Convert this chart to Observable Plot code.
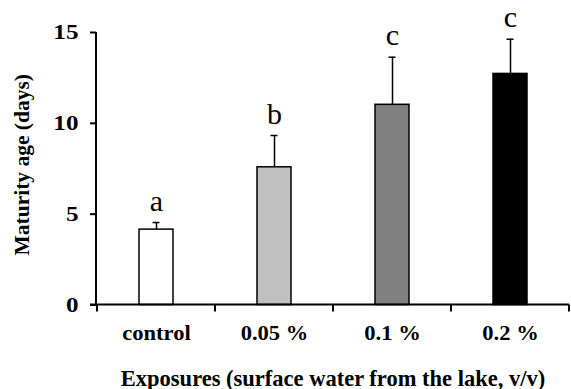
<!DOCTYPE html>
<html>
<head>
<meta charset="utf-8">
<script src="https://cdn.jsdelivr.net/npm/d3@7"></script>
<script src="https://cdn.jsdelivr.net/npm/@observablehq/plot@0.6"></script>
<style>
  html, body { margin: 0; padding: 0; background: #fff; }
</style>
</head>
<body>
<script>
const categories = ["control", "0.05 %", "0.1 %", "0.2 %"];
const means = [4.15, 7.58, 11.02, 12.72];
const errors = [0.39, 1.75, 2.62, 1.91];
const letters = ["a", "b", "c", "c"];
const fills = ["#ffffff", "#c0c0c0", "#808080", "#000000"];
const yTicks = [0, 5, 10, 15];
const yLabel = "Maturity age (days)";
const xLabel = "Exposures (surface water from the lake, v/v)";

const data = categories.map((cat, i) => ({cat, mean: means[i], err: errors[i], letter: letters[i]}));

const serif = "'Liberation Serif', 'Times New Roman', Times, serif";

function axesMark(index, scales, values, dimensions) {
  const x = scales.x, y = scales.y;
  const step = typeof x.step === "function" ? x.step() : scales.scales.x.step;
  const bw = typeof x.bandwidth === "function" ? x.bandwidth() : scales.scales.x.bandwidth;
  const {width, marginLeft, marginRight} = dimensions;
  const y0 = y(0), yTop = y(yTicks[yTicks.length - 1]);
  const g = d3.create("svg:g").attr("stroke", "black").attr("stroke-width", 2).attr("fill", "none");
  g.append("line").attr("x1", marginLeft).attr("x2", marginLeft).attr("y1", y0 + 1).attr("y2", yTop);
  g.append("line").attr("x1", marginLeft - 6).attr("x2", width - marginRight).attr("y1", y0).attr("y2", y0);
  const bounds = [x(categories[0]) + bw / 2 - step / 2, ...categories.map(c => x(c) + bw / 2 + step / 2)];
  for (const bx of bounds) {
    g.append("line").attr("x1", bx).attr("x2", bx).attr("y1", y0).attr("y2", y0 + 7);
  }
  return g.node();
}

const plot = Plot.plot({
  width: 571,
  height: 389,
  marginLeft: 96,
  marginRight: 2,
  marginTop: 32,
  marginBottom: 84.5,
  style: {fontFamily: serif, fontSize: "20.5px", fontWeight: "bold", background: "#fff", color: "#000"},
  x: {domain: categories, paddingInner: 0.713, paddingOuter: 0.3565, label: null},
  y: {domain: [0, 15], label: null},
  color: {domain: categories, range: fills},
  marks: [
    Plot.barY(data, {x: "cat", y: "mean", fill: "cat", stroke: "black", strokeWidth: 1.5}),
    Plot.ruleX(data, {x: "cat", y1: "mean", y2: d => d.mean + d.err, stroke: "black", strokeWidth: 1.5}),
    Plot.tickY(data, {x: "cat", y: d => d.mean + d.err, stroke: "black", strokeWidth: 1.5, insetLeft: 13.5, insetRight: 13.5}),
    Plot.text(data, {x: "cat", y: d => d.mean + d.err, text: "letter", lineAnchor: "bottom", dy: -12, fontSize: 30, fontWeight: "normal", fill: "black"}),
    Plot.axisY({ticks: yTicks, tickSize: 6, tickPadding: 12, strokeWidth: 2, fontSize: 21, tickFormat: d => String(d), label: null}),
    Plot.axisX({tickSize: 0, tickPadding: 20, fontSize: 20.5, label: null}),
    axesMark,
    Plot.text([yLabel], {frameAnchor: "left", textAnchor: "middle", lineAnchor: "middle", rotate: -90, dx: -74, dy: -4, fontSize: 21.5, fontWeight: "bold", fill: "black"}),
    Plot.text([xLabel], {frameAnchor: "bottom", textAnchor: "middle", lineAnchor: "bottom", dy: 80.5, fontSize: 22.5, fontWeight: "bold", fill: "black"})
  ]
});

document.body.append(plot);

// The reference's tick labels are slightly wider than plain Times; widen them about each label's anchor.
function stretchTexts(selector, k) {
  plot.querySelectorAll(selector).forEach(t => {
    const tr = t.getAttribute("transform") || "";
    if (tr) {
      t.setAttribute("transform", tr + ` scale(${k},1)`);
    } else {
      const x = +(t.getAttribute("x") || 0), y = +(t.getAttribute("y") || 0);
      t.setAttribute("x", 0);
      t.setAttribute("y", 0);
      t.setAttribute("transform", `translate(${x},${y}) scale(${k},1)`);
    }
  });
}
stretchTexts('g[aria-label="y-axis tick label"] text', 1.2);
stretchTexts('g[aria-label="x-axis tick label"] text', 1.1);
</script>
</body>
</html>
